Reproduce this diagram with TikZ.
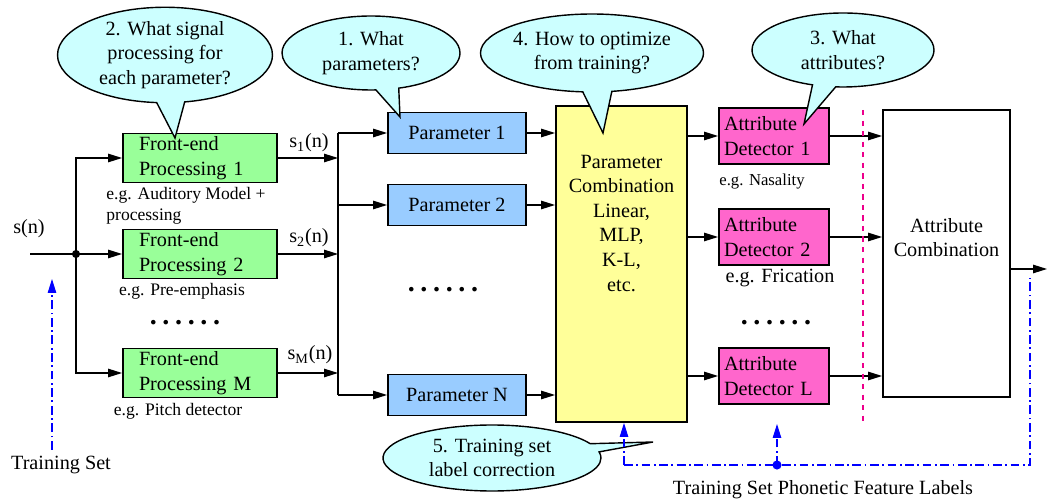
\documentclass[tikz,border=0pt]{standalone}
\usepackage{fontspec}
\setmainfont{Liberation Serif}
\usetikzlibrary{shapes, shapes.callouts, arrows.meta, positioning, calc}
\definecolor{fegreen}{HTML}{99FF99}
\definecolor{parblue}{HTML}{99CCFF}
\definecolor{combyellow}{HTML}{FFFF99}
\definecolor{attpink}{HTML}{FF66CC}
\definecolor{bubcyan}{HTML}{CCFFFF}
\newcommand{\sixdots}{.\kern3.2pt.\kern3.2pt.\kern3.2pt.\kern3.2pt.\kern3.2pt.}
\begin{document}
\begin{tikzpicture}[x=0.02cm, y=-0.02cm, line width=0.7pt,
	every node/.style={font=\fontsize{11.5}{14}\selectfont},
	arr/.style={-{Triangle[length=0.28cm,width=0.17cm]}},
	fe/.style={draw, line width=1.1pt, fill=fegreen, minimum width=3.08cm, minimum height=0.98cm, text width=2.44cm, inner xsep=0.32cm, inner ysep=0pt, align=left},
	par/.style={draw, line width=1.1pt, fill=parblue, minimum width=2.76cm, minimum height=0.82cm},
	att/.style={draw, line width=1.1pt, fill=attpink, minimum width=2.2cm, minimum height=1.12cm, text width=2.0cm, inner xsep=0.1cm, inner ysep=0pt, align=left},
	bubble/.style={ellipse callout, draw, line width=0.8pt, fill=bubcyan, align=center, inner sep=0pt},
	eg/.style={inner sep=1pt, font=\fontsize{10}{12}\selectfont},
	dots/.style={inner sep=1pt, font=\fontsize{16}{16}\selectfont\bfseries},
	train/.style={blue, line width=0.6pt, dash pattern=on 5pt off 2pt on 1pt off 2pt}]
	\useasboundingbox (0,0) rectangle (1047,499);
	\node (sn) at (29,229) {s(n)};
	\coordinate (in) at (30,254);
	\coordinate (split) at (76,254);
	\node[fe] (f1) at (200,158) {Front-end\\Processing 1};
	\node[fe] (f2) at (200,254) {Front-end\\Processing 2};
	\node[fe] (fM) at (200,373) {Front-end\\Processing M};
	\node[eg, anchor=west, align=left] (eg1) at (104,206) {e.g. Auditory Model +\\processing};
	\node[eg] (eg2) at (182,291) {e.g. Pre-emphasis};
	\node[eg] (eg3) at (178,411) {e.g. Pitch detector};
	\node[dots] (d1) at (185,323) {\sixdots};
	\draw (in) -- (split);
	\draw[arr] (split) -- (f2);
	\draw[arr] (split) |- (f1.west);
	\draw[arr] (split) |- (fM.west);
	\fill (split) circle[radius=2.3pt];
	\coordinate (bus) at (338,0);
	\node (s1) at (309,143) {s\textsubscript{1}(n)};
	\node (s2) at (309,238) {s\textsubscript{2}(n)};
	\node (sM) at (310,355) {s\textsubscript{M}(n)};
	\draw[arr] (f1) -- (f1 -| bus);
	\draw[arr] (f2) -- (f2 -| bus);
	\draw[arr] (fM) -- (fM -| bus);
	\node[par] (p1) at (457,133) {Parameter 1};
	\node[par] (p2) at (457,205) {Parameter 2};
	\node[par] (pN) at (457,395) {Parameter N};
	\node[dots] (d2) at (443,290) {\sixdots};
	\draw (p1 -| bus) -- (pN -| bus);
	\draw[arr] (p1 -| bus) -- (p1);
	\draw[arr] (p2 -| bus) -- (p2);
	\draw[arr] (pN -| bus) -- (pN);
	\node[draw, line width=1.1pt, fill=combyellow, minimum width=2.62cm, minimum height=6.32cm, align=center] (comb) at (621.5,264) {Parameter\\Combination\\Linear,\\MLP,\\K-L,\\etc.\\[1cm]\strut};
	\draw[arr] (p1) -- (p1 -| comb.west);
	\draw[arr] (p2) -- (p2 -| comb.west);
	\draw[arr] (pN) -- (pN -| comb.west);
	\node[att] (a1) at (774,136) {Attribute\\Detector 1};
	\node[att] (a2) at (774,237) {Attribute\\Detector 2};
	\node[att] (aL) at (774,376) {Attribute\\Detector L};
	\node[eg, font=\fontsize{9.5}{11}\selectfont] (eg4) at (762,182) {e.g. Nasality};
	\node (eg5) at (780,278) {e.g. Frication};
	\node[dots] (d3) at (776,323) {\sixdots};
	\draw[arr] (a1 -| comb.east) -- (a1);
	\draw[arr] (a2 -| comb.east) -- (a2);
	\draw[arr] (aL -| comb.east) -- (aL);
	\node[draw, line width=1.1pt, fill=white, minimum width=2.54cm, minimum height=5.74cm, align=center] (ac) at (946.5,253.5) {Attribute\\Combination\\\strut};
	\draw[arr] (a1) -- (a1 -| ac.west);
	\draw[arr] (a2) -- (a2 -| ac.west);
	\draw[arr] (aL) -- (aL -| ac.west);
	\coordinate (out) at (1047,269);
	\draw[arr] (ac.east |- out) -- (out);
	\draw[magenta, line width=1pt, dashed] (863,110) -- (863,422);
	\node[bubble, minimum width=4.3cm, minimum height=1.9cm, callout absolute pointer={(175,138)}] (q2) at (165,55) {2. What signal\\processing for\\each parameter?};
	\node[bubble, minimum width=3.56cm, minimum height=1.48cm, callout absolute pointer={(400,117)}] (q1) at (371,53) {1. What\\parameters?};
	\node[bubble, minimum width=4.32cm, minimum height=1.56cm, callout absolute pointer={(603,133)}] (q4) at (592,53) {4. How to optimize\\from training?};
	\node[bubble, minimum width=3.64cm, minimum height=1.48cm, callout absolute pointer={(804,124)}] (q3) at (843,50) {3. What\\attributes?};
	\node[bubble, minimum width=4.36cm, minimum height=1.32cm, callout absolute pointer={(653,442)}] (q5) at (492,458) {5. Training set\\label correction};
	\node (ts) at (61,465) {Training Set};
	\coordinate (tsup) at (52,279);
	\draw[train, arr] (ts.north -| tsup) -- (tsup);
	\node (ph) at (823,490) {Training Set Phonetic Feature Labels};
	\coordinate (bl) at (624,465);
	\coordinate (bm) at (777,465);
	\coordinate (br) at (1030,465);
	\coordinate (rt) at (1030,278);
	\coordinate (aup) at (777,424);
	\draw[train] (bl) -- (br) -- (rt);
	\draw[train, arr] (bl) -- (bl |- comb.south);
	\draw[train, arr] (bm) -- (aup);
	\fill[blue] (bm) circle[radius=2.6pt];
\end{tikzpicture}
\end{document}
